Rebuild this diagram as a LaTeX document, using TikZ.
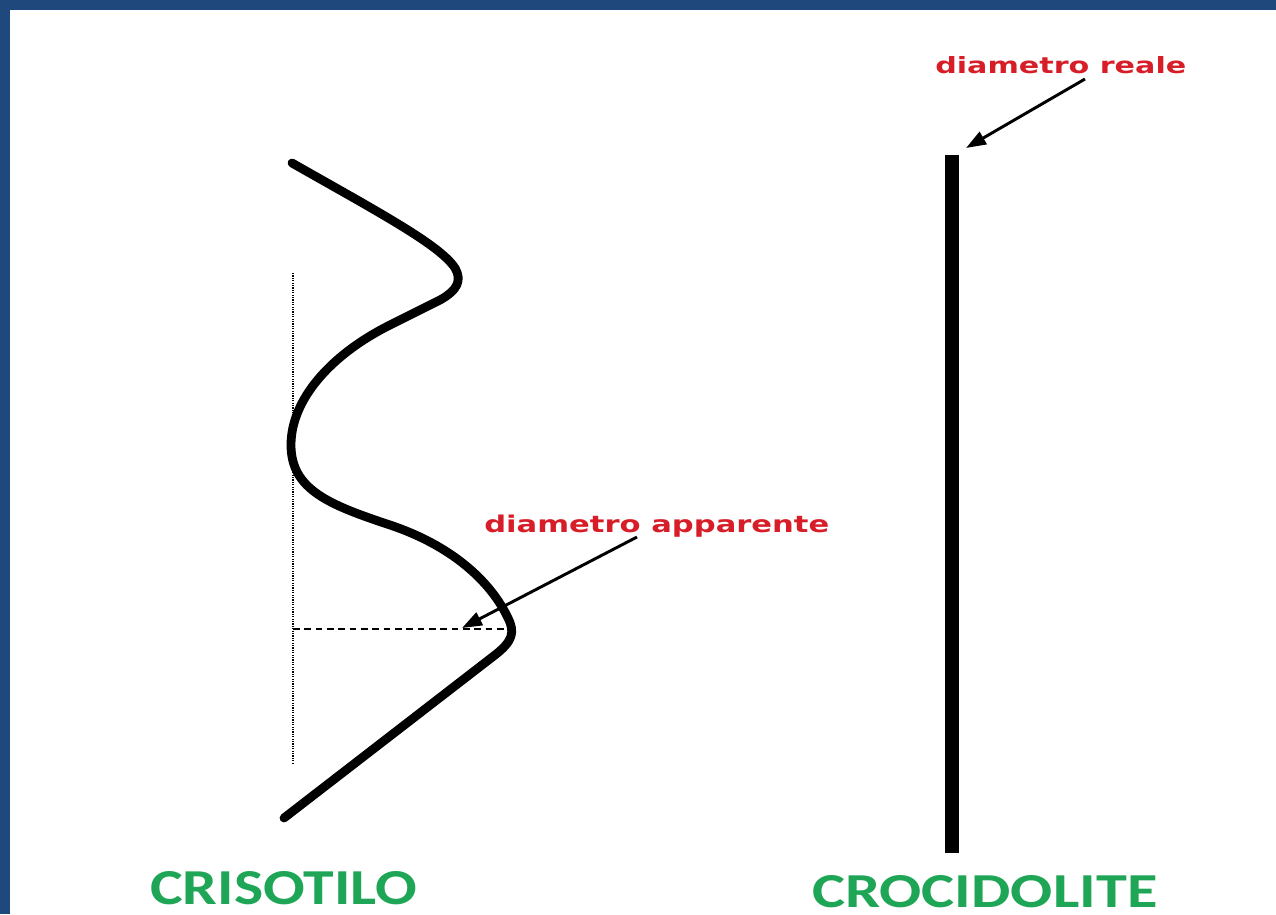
\documentclass[tikz,border=0pt]{standalone}
\usepackage{fontspec}
\usepackage{graphicx}
\newfontfamily\carl{Carlito}
\newfontfamily\dejab{DejaVu Sans}
\usetikzlibrary{arrows.meta}
\newlength\pxu
\setlength\pxu{0.75pt}
\definecolor{borderblue}{RGB}{31,72,124}
\definecolor{lblred}{RGB}{215,30,40}
\definecolor{lblgreen}{RGB}{30,165,85}
\tikzset{
  lbl/.style={inner sep=0pt, anchor=base west},
  redlbl/.style={lbl, text=lblred},
  greenlbl/.style={lbl, text=lblgreen},
  fibre/.style={line width=6.6pt, line cap=round, line join=round},
  ptr/.style={line width=2.2pt, -{Triangle[length=15pt,width=10.5pt]}},
  guide/.style={line width=1pt, dash pattern=on 0.9pt off 0.9pt},
  diam/.style={line width=1.2pt, dash pattern=on 5pt off 3.5pt},
}
\begin{document}
\begin{tikzpicture}[x=0.75pt,y=-0.75pt]
\useasboundingbox (0,0) rectangle (1276,914);
\fill[white] (0,0) rectangle (1276,914);
\fill[borderblue] (0,0) rectangle (1276,10);
\fill[borderblue] (0,0) rectangle (10,914);

% crisotilo fibre
\draw[fibre] (292,163) .. controls (380,213) and (440,245) .. (455,268)
  .. controls (462,280) and (458,290) .. (440,300)
  -- (390,325)
  .. controls (330,355) and (291,400) .. (291,445)
  .. controls (291,490) and (330,505) .. (390,525)
  .. controls (450,545) and (490,580) .. (508,618)
  .. controls (515,632) and (513,641) .. (495,655)
  -- (284,818);

% guides
\coordinate (gtop) at (293,273);
\coordinate (gbot) at (293,764);
\draw[guide] (gtop) -- (gbot);
\coordinate (dl) at (293,629);
\coordinate (dr) at (513,629);
\draw[diam] (dl) -- (dr);

% crocidolite fibre
\node[fill=black, inner sep=0pt, minimum width=14\pxu, minimum height=698\pxu] (bar) at (952,504) {};

% labels
\node[redlbl] (reale) at (935,73) {\resizebox{251\pxu}{17\pxu}{\dejab\bfseries diametro reale}};
\node[redlbl] (appar) at (484,532) {\resizebox{345\pxu}{17.5\pxu}{\dejab\bfseries diametro apparente}};
\node[greenlbl] (criso) at (150,904) {\resizebox{267\pxu}{33\pxu}{\carl\bfseries CRISOTILO}};
\node[greenlbl] (croci) at (812,907) {\resizebox{345\pxu}{32\pxu}{\carl\bfseries CROCIDOLITE}};

% pointers
\coordinate (ra) at (1085,79);
\coordinate (rb) at (966,148);
\draw[ptr] (ra) -- (rb);
\coordinate (aa) at (637,537);
\coordinate (ab) at (462,628);
\draw[ptr] (aa) -- (ab);
\end{tikzpicture}
\end{document}
